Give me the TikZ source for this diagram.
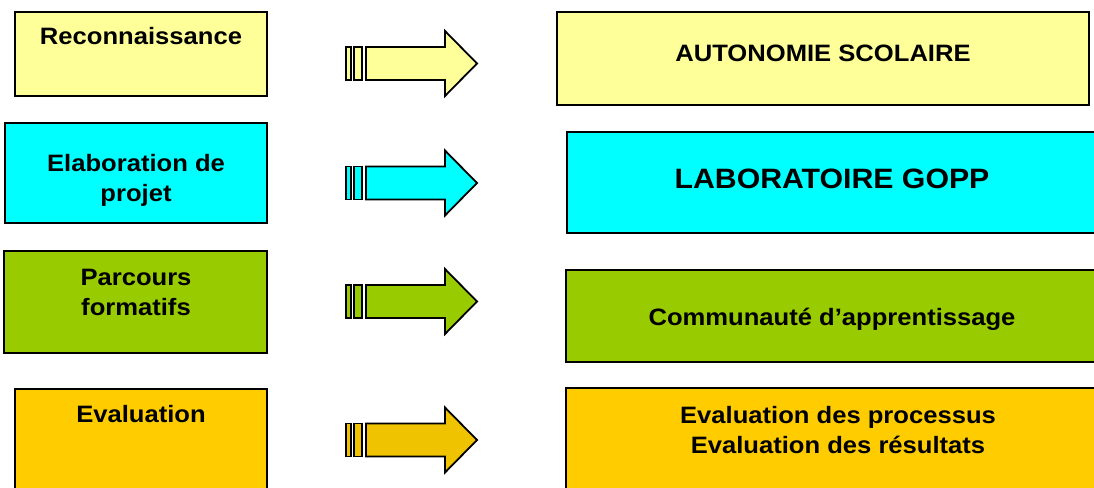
\documentclass[tikz,border=0pt]{standalone}
\usepackage{fontspec}
\newfontfamily\labfont{Liberation Sans}[FakeStretch=1.08]
\definecolor{cyel}{HTML}{FFFF99}
\definecolor{ccyn}{HTML}{00FFFF}
\definecolor{cgrn}{HTML}{99CC00}
\definecolor{cgld}{HTML}{FFCC00}
\definecolor{cgldarr}{HTML}{F0C300}
\tikzset{
  box/.style={draw=black, line width=1.6pt, rectangle, inner sep=0pt},
  lbl/.style={font=\labfont\bfseries\fontsize{23.7}{29.5}\selectfont, anchor=base, align=center, inner sep=0pt, text=black},
  biglbl/.style={lbl, font=\labfont\bfseries\fontsize{28}{34}\selectfont},
  arr/.style={draw=black, line width=1.8pt, line join=miter},
}
\newcommand\blkarrow[3]{%
  \coordinate (#1) at (346,#2);
  \draw[arr, fill=#3, shift={(#1)}] (0,-16.5) rectangle (5,16.5);
  \draw[arr, fill=#3, shift={(#1)}] (8,-16.5) rectangle (16,16.5);
  \draw[arr, fill=#3, shift={(#1)}] (20,-16.5) -- (99,-16.5) -- (99,-32.5) -- (131,0) -- (99,32.5) -- (99,16.5) -- (20,16.5) -- cycle;
}
\begin{document}
\begin{tikzpicture}[x=1pt, y=-1pt]
\useasboundingbox (0,0) rectangle (1094,487);
\clip (0,0) rectangle (1094,487);
\fill[white] (0,0) rectangle (1094,487);
% left boxes
\node[box, fill=cyel, minimum width=252pt, minimum height=84pt] (L1) at (141,54) {};
\node[box, fill=ccyn, minimum width=262pt, minimum height=100pt] (L2) at (136,173) {};
\node[box, fill=cgrn, minimum width=263pt, minimum height=102pt] (L3) at (135.5,302) {};
\node[box, fill=cgld, minimum width=252pt, minimum height=111pt] (L4) at (141,444.5) {};
% right boxes
\node[box, fill=cyel, minimum width=532pt, minimum height=93pt] (R1) at (823,58.5) {};
\node[box, fill=ccyn, minimum width=533pt, minimum height=101pt] (R2) at (833.5,182.5) {};
\node[box, fill=cgrn, minimum width=534pt, minimum height=92pt] (R3) at (833,316) {};
\node[box, fill=cgld, minimum width=544pt, minimum height=112pt] (R4) at (838,444) {};
% labels (multi-line labels are placed by the baseline of their last line)
\node[lbl] (t1) at (141,45) {Reconnaissance};
\node[lbl] (t2) at (136,201) {Elaboration de\\projet};
\node[lbl] (t3) at (136,315) {Parcours\\formatifs};
\node[lbl] (t4) at (141,422) {Evaluation};
\node[lbl] (u1) at (823,62) {AUTONOMIE SCOLAIRE};
\node[biglbl] (u2) at (832,188) {LABORATOIRE GOPP};
\node[lbl] (u3) at (832,325) {Communauté d’apprentissage};
\node[lbl] (u4) at (838,453) {Evaluation des processus\\Evaluation des résultats};
% arrows
\blkarrow{a1}{63.5}{cyel}
\blkarrow{a2}{183}{ccyn}
\blkarrow{a3}{301.5}{cgrn}
\blkarrow{a4}{440}{cgldarr}
\end{tikzpicture}
\end{document}
